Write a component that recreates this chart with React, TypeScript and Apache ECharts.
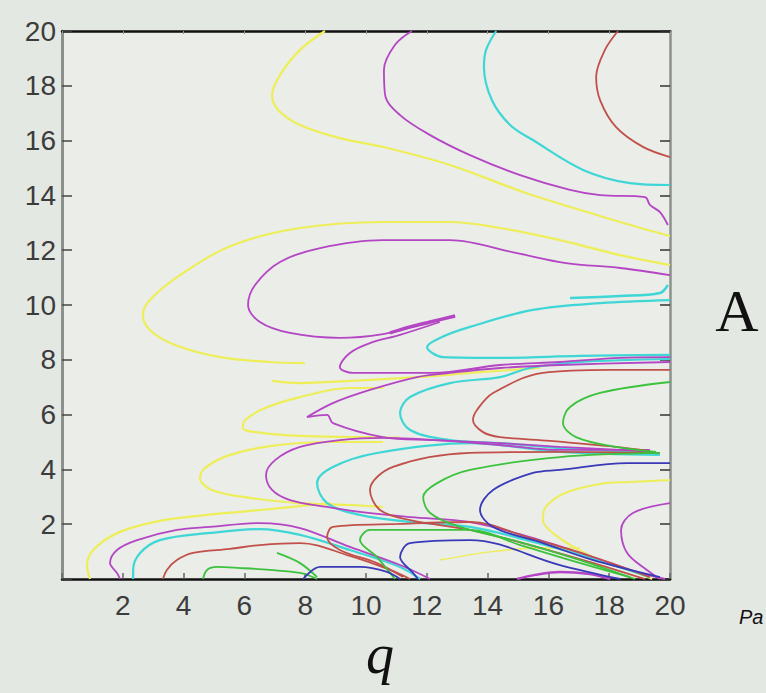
import React, { useEffect, useRef } from "react";
import * as echarts from "echarts";

// Axis tick values
const qTicks = [0, 2, 4, 6, 8, 10, 12, 14, 16, 18, 20];
const aTicks = [0, 2, 4, 6, 8, 10, 12, 14, 16, 18, 20];

// Contour curves, each as [q, A] points
const yellowTop = [[8.65,20],[7.83,19.31],[7.17,18.39],[6.91,17.66],[7.11,17.12],[7.83,16.57],[9.14,16.09],[10.56,15.77],[12.76,15.11],[15.26,14.09],[17.7,13.25],[19.01,12.82],[20,12.52]];
const magentaTop = [[11.51,20],[10.95,19.49],[10.59,18.58],[10.63,17.66],[11.12,16.93],[12.11,16.2],[13.42,15.47],[15.07,14.74],[16.71,14.2],[17.7,14.01],[19.18,13.94],[19.34,13.65],[19.67,13.39],[19.93,12.92]];
const cyanTop = [[14.28,20],[13.95,19.31],[13.88,18.69],[14.14,17.48],[14.74,16.57],[15.49,16.02],[17.14,14.93],[18.68,14.45],[20,14.38]];
const redTop = [[18.29,20],[17.86,19.31],[17.57,18.32],[17.7,17.48],[18.22,16.5],[19.11,15.77],[20,15.4]];
const magentaMid = [[20,11.09],[18.36,11.35],[16.58,11.53],[14.93,11.9],[12.76,12.37],[10.56,12.37],[8.49,12.08],[7.17,11.57],[6.35,10.73],[6.12,10],[6.51,9.38],[7.5,8.98],[9.14,8.8],[10.56,8.94],[11.78,9.27],[12.93,9.6]];
const magentaStreak = [[10.79,8.98],[11.45,9.2],[12.11,9.38],[12.93,9.6]];
const yellowBig = [[20,11.46],[18.36,11.82],[16.38,12.37],[14.41,12.81],[12.76,13.03],[10.56,13.03],[7.83,12.81],[5.63,12.19],[3.88,11.09],[2.89,10.18],[2.66,9.64],[2.89,9.09],[3.72,8.54],[5.2,8.1],[6.84,7.92],[7.99,7.88]];
const cyanMid = [[20,10.18],[17.7,10.07],[15.49,9.82],[13.42,9.2],[12.43,8.8],[12.01,8.47],[12.53,8.1],[14.41,8.07],[17.04,8.14],[20,8.18]];
const cyanWiggle = [[16.71,10.26],[18.36,10.33],[19.67,10.44],[19.93,10.73]];
const magentaC6 = [[12.43,9.38],[11.12,8.91],[10.13,8.61],[9.47,8.25],[9.14,7.74],[9.57,7.52],[12.2,7.52],[14.41,7.81],[16.38,7.92],[18.36,8.07],[20,8.1]];
const yellowY2 = [[6.91,7.23],[7.83,7.15],[9.47,7.23],[11.68,7.37],[13.75,7.55],[15.72,7.7]];
const yellowY3 = [[10.56,6.97],[9.47,6.97],[7.83,6.64],[6.68,6.24],[6.02,5.8],[5.95,5.51],[6.58,5.33],[7.83,5.22],[9.8,5.18],[11.12,5.15]];
const magentaC7 = [[20,7.92],[16.38,7.81],[14.41,7.7],[12.76,7.52],[11.68,7.37],[10.13,6.9],[8.91,6.42],[8.06,5.91],[8.72,5.99],[8.91,5.69],[10.56,5.18],[12.2,5.07],[14.41,4.96],[16.38,4.82],[18.36,4.71],[19.34,4.64]];
const cyanC9a = [[20,8.03],[17.04,7.92],[15.39,7.7],[14.41,7.37],[12.76,7.15],[11.45,6.64],[11.12,6.06],[11.45,5.44],[12.76,5.07],[14.41,4.96],[16.38,4.78],[18.36,4.67],[19.34,4.64]];
const redC10a = [[20,7.63],[18.03,7.63],[15.82,7.52],[14.18,6.79],[13.65,6.17],[13.52,5.8],[13.85,5.36],[14.41,5.18],[16.05,5.04],[18.22,4.82],[19.34,4.67]];
const greenC11a = [[20,7.19],[17.7,6.79],[16.71,6.28],[16.48,5.69],[16.91,5.18],[18.22,4.82],[19.54,4.64]];
const magentaC8 = [[19.34,4.71],[16.38,4.71],[14.41,4.89],[12.3,5.07],[10.56,5.15],[9.14,5.07],[7.83,4.82],[7.01,4.34],[6.71,3.8],[6.91,3.25],[7.5,2.88],[8.72,2.63],[9.8,2.45],[11.45,2.26],[13.42,2.08],[15.39,1.53],[17.37,0.84],[19.01,0.22],[19.84,0]];
const cyanC9b = [[19.67,4.53],[16.38,4.64],[13.42,4.96],[10.36,4.6],[8.91,4.09],[8.39,3.5],[8.72,2.77],[9.8,2.34],[11.45,2.08],[13.42,1.9],[15.39,1.39],[17.37,0.77],[19.34,0.07]];
const redC10b = [[19.67,4.6],[16.38,4.64],[13.42,4.6],[10.89,4.09],[10.13,3.25],[10.46,2.52],[11.45,2.15],[13.42,1.79],[15.39,1.24],[17.37,0.62],[19.18,0]];
const greenC11b = [[19.67,4.6],[16.38,4.45],[13.42,3.98],[12.34,3.5],[11.88,2.99],[12.11,2.41],[13.09,1.9],[15.07,1.35],[17.04,0.69],[18.85,0]];
const blueC12 = [[20,4.23],[18.59,4.23],[16.38,3.98],[15.49,3.87],[14.18,3.25],[13.75,2.52],[14.18,1.9],[15.82,1.31],[17.47,0.69],[19.67,0.07]];
const yellowC13 = [[20,3.61],[18.68,3.54],[17.7,3.47],[16.55,3.14],[15.89,2.59],[15.82,2.15],[16.22,1.61],[17.47,0.8],[19.01,0.18],[19.41,0]];
const magentaC14 = [[20,2.77],[18.78,2.41],[18.39,1.79],[18.59,0.95],[19.24,0.33],[19.67,0]];
const magentaArc = [[14.97,0],[15.56,0.15],[16.38,0.26],[17.37,0.18],[18.03,0]];
const yellowFaint = [[12.43,0.69],[14.08,0.99],[15.72,1.13],[17.04,1.13]];
const yellowY4 = [[10.56,5],[8.82,5],[6.84,4.85],[5.53,4.53],[4.7,4.05],[4.54,3.69],[4.93,3.25],[6.18,2.96],[7.83,2.77],[9.47,2.7],[10.56,2.63]];
const yellowOuter = [[8.82,2.77],[7.17,2.59],[5.86,2.45],[4.77,2.34],[3.22,2.12],[1.91,1.72],[1.09,1.13],[0.82,0.51],[0.92,0]];
const magentaOuter = [[12.11,0],[11.12,0.51],[9.47,1.17],[7.83,1.86],[6.51,2.04],[4.87,1.9],[3.78,1.79],[2.47,1.42],[1.81,1.06],[1.58,0.58],[1.81,0.22],[1.91,0]];
const cyanOuter = [[2.34,0],[2.34,0.33],[2.57,0.95],[3.22,1.42],[4.87,1.68],[6.51,1.82],[7.83,1.61],[9.47,1.06],[11.12,0.44],[11.78,0]];
const redOuter = [[3.32,0],[3.45,0.33],[3.78,0.69],[4.31,0.95],[5.53,1.1],[6.51,1.24],[7.83,1.31],[9.47,0.84],[10.79,0.33],[11.45,0]];
const greenOuter = [[4.64,0],[4.77,0.33],[5.1,0.44],[5.86,0.4],[6.84,0.33],[7.83,0.22],[8.39,0]];
const greenDiag = [[7.07,0.95],[7.83,0.58],[8.39,0.07]];
const redC15 = [[19.34,0.07],[17.37,0.84],[15.39,1.5],[13.42,2.08],[11.12,2.01],[8.91,1.9],[8.72,1.53],[9.14,1.06],[10.36,0.58],[11.22,0.07]];
const greenC16 = [[18.68,0.07],[16.71,0.69],[15.07,1.24],[13.42,1.79],[10.13,1.79],[9.8,1.42],[10.36,0.8],[10.95,0]];
const blueC17 = [[18.36,0],[16.38,0.51],[13.42,1.42],[11.45,1.31],[11.12,0.8],[11.55,0.22],[11.71,0]];
const blueArc = [[7.93,0],[8.49,0.44],[9.8,0.44],[10.69,0.26],[11.12,0]];

const YEL = "#eeee58";
const MAG = "#b445c4";
const CYA = "#3fd6d6";
const RED = "#c2504a";
const GRN = "#3cc23c";
const BLU = "#3a3ab8";

const curves: { data: number[][]; color: string; width?: number }[] = [
  { data: yellowTop, color: YEL, width: 2.2 },
  { data: magentaTop, color: MAG },
  { data: cyanTop, color: CYA, width: 2.2 },
  { data: redTop, color: RED },
  { data: yellowBig, color: YEL, width: 2.2 },
  { data: magentaMid, color: MAG },
  { data: magentaStreak, color: MAG, width: 3.5 },
  { data: cyanMid, color: CYA, width: 2.2 },
  { data: cyanWiggle, color: CYA, width: 2.5 },
  { data: yellowY2, color: YEL, width: 2.2 },
  { data: yellowY3, color: YEL, width: 2.2 },
  { data: yellowY4, color: YEL, width: 2.2 },
  { data: yellowOuter, color: YEL, width: 2.2 },
  { data: yellowC13, color: YEL, width: 2 },
  { data: yellowFaint, color: YEL, width: 1.5 },
  { data: cyanC9a, color: CYA, width: 2.2 },
  { data: cyanC9b, color: CYA, width: 2.2 },
  { data: cyanOuter, color: CYA, width: 2.2 },
  { data: magentaC6, color: MAG },
  { data: magentaC7, color: MAG },
  { data: magentaC8, color: MAG },
  { data: magentaC14, color: MAG },
  { data: magentaArc, color: MAG, width: 2.5 },
  { data: magentaOuter, color: MAG },
  { data: redC10a, color: RED },
  { data: redC10b, color: RED },
  { data: redC15, color: RED },
  { data: redOuter, color: RED },
  { data: greenC11a, color: GRN },
  { data: greenC11b, color: GRN },
  { data: greenC16, color: GRN },
  { data: greenOuter, color: GRN },
  { data: greenDiag, color: GRN },
  { data: blueC12, color: BLU },
  { data: blueC17, color: BLU },
  { data: blueArc, color: BLU },
];

const labelFmt = (v: number) => (v === 0 ? "" : String(v));

export default function App() {
  const ref = useRef<HTMLDivElement>(null);
  useEffect(() => {
    if (!ref.current) return;
    const chart = echarts.init(ref.current, null, { renderer: "svg" });
    const tickFont = { fontSize: 28, color: "#3c3c3c", fontFamily: "'Liberation Sans', Arial, sans-serif" };
    chart.setOption({
      animation: false,
      backgroundColor: "#e4e8e2",
      grid: {
        left: 62, right: 96, top: 31, bottom: 114,
        show: true, backgroundColor: "#eaede8", borderWidth: 0,
      },
      xAxis: [
        {
          type: "value", min: qTicks[0], max: qTicks[qTicks.length - 1], interval: 2, position: "bottom",
          axisLine: { show: true, onZero: false, lineStyle: { color: "#111", width: 2.5 } },
          axisTick: { show: true, inside: true, length: 6, lineStyle: { color: "#666", width: 1.5 } },
          axisLabel: { ...tickFont, margin: 12, formatter: labelFmt },
          splitLine: { show: false },
        },
        {
          type: "value", min: qTicks[0], max: qTicks[qTicks.length - 1], interval: 2, position: "top",
          axisLine: { show: true, onZero: false, lineStyle: { color: "#111", width: 2.5 } },
          axisTick: { show: true, inside: true, length: 3, lineStyle: { color: "#999", width: 1 } },
          axisLabel: { show: false },
          splitLine: { show: false },
        },
      ],
      yAxis: [
        {
          type: "value", min: aTicks[0], max: aTicks[aTicks.length - 1], interval: 2, position: "left",
          axisLine: { show: true, onZero: false, lineStyle: { color: "#8c908c", width: 3 } },
          axisTick: { show: true, inside: true, length: 10, lineStyle: { color: "#444", width: 1.5 } },
          axisLabel: { ...tickFont, margin: 6, formatter: labelFmt, padding: [0, 0, 6, 0] },
          splitLine: { show: false },
        },
        {
          type: "value", min: aTicks[0], max: aTicks[aTicks.length - 1], interval: 2, position: "right",
          axisLine: { show: true, onZero: false, lineStyle: { color: "#8c908c", width: 2.5 } },
          axisTick: { show: true, inside: true, length: 10, lineStyle: { color: "#333", width: 1.5 } },
          axisLabel: { show: false },
          splitLine: { show: false },
        },
      ],
      series: curves.map((c) => ({
        type: "line",
        data: c.data,
        xAxisIndex: 0,
        yAxisIndex: 0,
        showSymbol: false,
        smooth: 0.35,
        silent: true,
        lineStyle: { color: c.color, width: c.width ?? 1.8 },
      })),
      graphic: [
        {
          type: "text", x: 737, y: 311,
          style: { text: "A", font: "60px 'Liberation Serif', 'Times New Roman', serif", fill: "#111", textAlign: "center", textVerticalAlign: "middle" },
        },
        {
          type: "text", x: 380, y: 654,
          style: { text: "q", font: "italic 56px 'Liberation Serif', 'Times New Roman', serif", fill: "#111", textAlign: "center", textVerticalAlign: "middle" },
        },
        {
          type: "text", x: 739, y: 617,
          style: { text: "Pa", font: "italic 20px 'Liberation Sans', Arial, sans-serif", fill: "#111", textAlign: "left", textVerticalAlign: "middle" },
        },
      ],
    });
    return () => chart.dispose();
  }, []);
  return (
    <div
      ref={ref}
      style={{ position: "absolute", left: 0, top: 0, width: 766, height: 693, background: "#e4e8e2" }}
    />
  );
}
